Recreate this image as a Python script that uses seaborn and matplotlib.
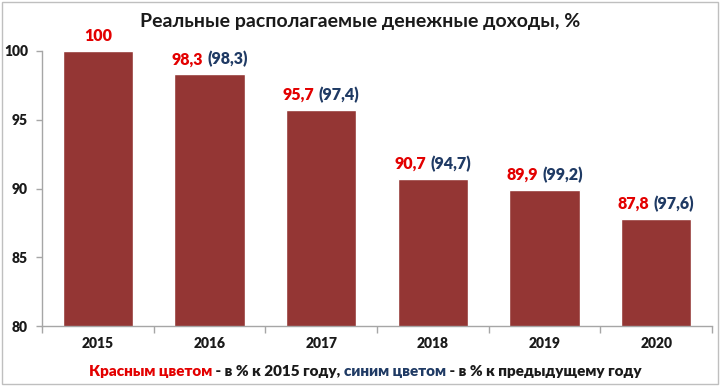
import matplotlib
matplotlib.use("Agg")
import matplotlib.pyplot as plt
import seaborn as sns
import pandas as pd
from matplotlib.offsetbox import TextArea, HPacker, AnnotationBbox
from matplotlib.patches import Rectangle

years = ["2015", "2016", "2017", "2018", "2019", "2020"]
values = [100, 98.3, 95.7, 90.7, 89.9, 87.8]
prev_year = [None, 98.3, 97.4, 94.7, 99.2, 97.6]
title = "Реальные располагаемые денежные доходы, %"

sns.set_theme(style="white")
plt.rcParams['font.family'] = ['Lato', 'DejaVu Sans']

BAR = "#943634"
RED = "#E30000"
BLUE = "#1F3A64"
GRID = "#A6A6A6"

df = pd.DataFrame({"year": years, "value": values})

fig = plt.figure(figsize=(7.2, 3.86), dpi=100)
ax = fig.add_axes([42/720, 1-326/386, (712-42)/720, (326-51)/386])
sns.barplot(data=df, x="year", y="value", color=BAR, saturation=1, width=0.63, ax=ax)
ax.set_ylim(80, 100)
ax.set_xlim(-0.5, 5.5)
ax.set_yticks([80, 85, 90, 95, 100])
ax.set_xlabel("")
ax.set_ylabel("")
for s in ["top", "right"]:
    ax.spines[s].set_visible(False)
for s in ["left", "bottom"]:
    ax.spines[s].set_color(GRID)
    ax.spines[s].set_linewidth(1)
ax.tick_params(axis="y", length=4, color=GRID, width=1, direction="out", left=True,
               labelsize=10, pad=6)
ax.tick_params(axis="x", length=0, labelsize=10, pad=8)
for t in ax.get_yticklabels() + ax.get_xticklabels():
    t.set_fontweight("heavy")
    t.set_color("#1a1a1a")
ax.set_xticks([i - 0.5 for i in range(7)], minor=True)
ax.tick_params(axis="x", which="minor", length=5, color=GRID, width=1, bottom=True)

def fmt(v):
    return f"{v:.1f}".replace(".", ",") if v != int(v) else f"{int(v)}"

for i, (v, p) in enumerate(zip(values, prev_year)):
    parts = [TextArea(fmt(v), textprops=dict(color=RED, fontsize=11.5, fontweight="heavy"))]
    if p is not None:
        parts.append(TextArea(f"({fmt(p)})", textprops=dict(color=BLUE, fontsize=11.5, fontweight="heavy")))
    box = HPacker(children=parts, align="baseline", pad=0, sep=3)
    ab = AnnotationBbox(box, (i, v), xybox=(0, 5), xycoords="data", boxcoords="offset points",
                        box_alignment=(0.5, 0), frameon=False, annotation_clip=False)
    ax.add_artist(ab)

fig.text(0.5, 1-22/386, title, ha="center", va="center", fontsize=14, fontweight="bold",
         color="#1a1a1a")

tp = dict(fontsize=11, fontweight="heavy")
foot = HPacker(children=[
    TextArea("Красным цветом", textprops=dict(color=RED, **tp)),
    TextArea(" - в % к 2015 году, ", textprops=dict(color="#1a1a1a", **tp)),
    TextArea("синим цветом", textprops=dict(color=BLUE, **tp)),
    TextArea(" - в % к предыдущему году", textprops=dict(color="#1a1a1a", **tp)),
], align="baseline", pad=0, sep=0)
fab = AnnotationBbox(foot, (365/720, 1-371/386), xycoords="figure fraction",
                     box_alignment=(0.5, 0.5), frameon=False)
fig.add_artist(fab)

fig.add_artist(Rectangle((2/720, 2/386), 716/720, 382/386, transform=fig.transFigure,
                         fill=False, edgecolor="#BFBFBF", linewidth=1))

fig.savefig("out.png", dpi=100)
